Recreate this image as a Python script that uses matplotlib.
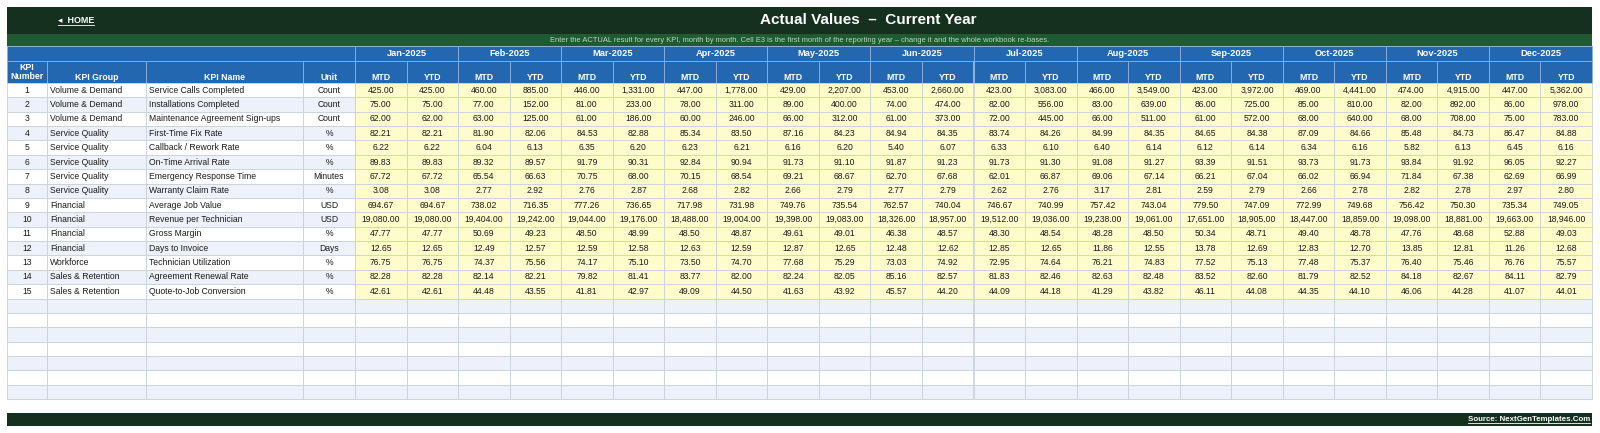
import matplotlib
matplotlib.use("Agg")
import matplotlib.pyplot as plt
from matplotlib.patches import Rectangle

plt.rcParams['font.family'] = ['Liberation Sans', 'DejaVu Sans']

# ---- data ----
months = ["Jan-2025", "Feb-2025", "Mar-2025", "Apr-2025", "May-2025", "Jun-2025",
          "Jul-2025", "Aug-2025", "Sep-2025", "Oct-2025", "Nov-2025", "Dec-2025"]
kpi_numbers = list(range(1, 16))
kpi_groups = ["Volume & Demand", "Volume & Demand", "Volume & Demand",
              "Service Quality", "Service Quality", "Service Quality",
              "Service Quality", "Service Quality", "Financial", "Financial",
              "Financial", "Financial", "Workforce", "Sales & Retention",
              "Sales & Retention"]
kpi_names = ["Service Calls Completed", "Installations Completed",
             "Maintenance Agreement Sign-ups", "First-Time Fix Rate",
             "Callback / Rework Rate", "On-Time Arrival Rate",
             "Emergency Response Time", "Warranty Claim Rate", "Average Job Value",
             "Revenue per Technician", "Gross Margin", "Days to Invoice",
             "Technician Utilization", "Agreement Renewal Rate",
             "Quote-to-Job Conversion"]
units = ["Count", "Count", "Count", "%", "%", "%", "Minutes", "%", "USD", "USD",
         "%", "Days", "%", "%", "%"]

mtd = [
    [425, 460, 446, 447, 429, 453, 423, 466, 423, 469, 474, 447],
    [75, 77, 81, 78, 89, 74, 82, 83, 86, 85, 82, 86],
    [62, 63, 61, 60, 66, 61, 72, 66, 61, 68, 68, 75],
    [82.21, 81.90, 84.53, 85.34, 87.16, 84.94, 83.74, 84.99, 84.65, 87.09, 85.48, 86.47],
    [6.22, 6.04, 6.35, 6.23, 6.16, 5.40, 6.33, 6.40, 6.12, 6.34, 5.82, 6.45],
    [89.83, 89.32, 91.79, 92.84, 91.73, 91.87, 91.73, 91.08, 93.39, 93.73, 93.84, 96.05],
    [67.72, 65.54, 70.75, 70.15, 69.21, 62.70, 62.01, 69.06, 66.21, 66.02, 71.84, 62.69],
    [3.08, 2.77, 2.76, 2.68, 2.66, 2.77, 2.62, 3.17, 2.59, 2.66, 2.82, 2.97],
    [694.67, 738.02, 777.26, 717.98, 749.76, 762.57, 746.67, 757.42, 779.50, 772.99, 756.42, 735.34],
    [19080, 19404, 19044, 18488, 19398, 18326, 19512, 19238, 17651, 18447, 19098, 19663],
    [47.77, 50.69, 48.50, 48.50, 49.61, 46.38, 48.30, 48.28, 50.34, 49.40, 47.76, 52.88],
    [12.65, 12.49, 12.59, 12.63, 12.87, 12.48, 12.85, 11.86, 13.78, 12.83, 13.85, 11.26],
    [76.75, 74.37, 74.17, 73.50, 77.68, 73.03, 72.95, 76.21, 77.52, 77.48, 76.40, 76.76],
    [82.28, 82.14, 79.82, 83.77, 82.24, 85.16, 81.83, 82.63, 83.52, 81.79, 84.18, 84.11],
    [42.61, 44.48, 41.81, 49.09, 41.63, 45.57, 44.09, 41.29, 46.11, 44.35, 46.06, 41.07],
]
ytd = [
    [425, 885, 1331, 1778, 2207, 2660, 3083, 3549, 3972, 4441, 4915, 5362],
    [75, 152, 233, 311, 400, 474, 556, 639, 725, 810, 892, 978],
    [62, 125, 186, 246, 312, 373, 445, 511, 572, 640, 708, 783],
    [82.21, 82.06, 82.88, 83.50, 84.23, 84.35, 84.26, 84.35, 84.38, 84.66, 84.73, 84.88],
    [6.22, 6.13, 6.20, 6.21, 6.20, 6.07, 6.10, 6.14, 6.14, 6.16, 6.13, 6.16],
    [89.83, 89.57, 90.31, 90.94, 91.10, 91.23, 91.30, 91.27, 91.51, 91.73, 91.92, 92.27],
    [67.72, 66.63, 68.00, 68.54, 68.67, 67.68, 66.87, 67.14, 67.04, 66.94, 67.38, 66.99],
    [3.08, 2.92, 2.87, 2.82, 2.79, 2.79, 2.76, 2.81, 2.79, 2.78, 2.78, 2.80],
    [694.67, 716.35, 736.65, 731.98, 735.54, 740.04, 740.99, 743.04, 747.09, 749.68, 750.30, 749.05],
    [19080, 19242, 19176, 19004, 19083, 18957, 19036, 19061, 18905, 18859, 18881, 18946],
    [47.77, 49.23, 48.99, 48.87, 49.01, 48.57, 48.54, 48.50, 48.71, 48.78, 48.68, 49.03],
    [12.65, 12.57, 12.58, 12.59, 12.65, 12.62, 12.65, 12.55, 12.69, 12.70, 12.81, 12.68],
    [76.75, 75.56, 75.10, 74.70, 75.29, 74.92, 74.64, 74.83, 75.13, 75.37, 75.46, 75.57],
    [82.28, 82.21, 81.41, 82.00, 82.05, 82.57, 82.46, 82.48, 82.60, 82.52, 82.67, 82.79],
    [42.61, 43.55, 42.97, 44.50, 43.92, 44.20, 44.18, 43.82, 44.08, 44.10, 44.28, 44.01],
]
n_empty = 7

# ---- colours ----
DARK = "#15301f"
GREEN = "#1f5a32"
BLUE = "#2467b1"
HEAD_LINE = "#8db0dc"
ALT = "#edf2fa"
YELLOW = "#fffccb"
GRID = "#c9d0da"
TXT = "#1a1a1a"

# ---- layout (pixels) ----
W, H = 1600, 433
left, right = 7, 1592
col_edges = [7, 47, 146, 303, 355]
month_w = (right - col_edges[-1]) / len(months)
y_top, y_band, y_month, y_colhead, y_rows = 7, 34, 46, 61, 83
row_h = 14.37
foot_top, foot_bot = 413, 426

fig = plt.figure(figsize=(W / 100, H / 100), dpi=100)
ax = fig.add_axes([0, 0, 1, 1])
ax.set_xlim(0, W)
ax.set_ylim(H, 0)
ax.axis("off")


def cell(x0, y0, w, h, fc, ec=GRID, lw=0.6):
    ax.add_patch(Rectangle((x0, y0), w, h, facecolor=fc, edgecolor=ec, linewidth=lw))


# title band
ax.add_patch(Rectangle((left, y_top), right - left, y_band - y_top, facecolor=DARK, lw=0))
ax.add_patch(Rectangle((left, y_band), right - left, y_month - y_band, facecolor=GREEN, lw=0))
home = ax.text(58, 20.5, "\u25c2  HOME", color="white", fontsize=6.4, fontweight="bold",
               va="center", ha="left")
ax.text(868, 20.5, "Actual Values  \u2013  Current Year", color="white", fontsize=11.0,
        fontweight="bold", va="center", ha="center")
ax.text(800, 40.2, "Enter the ACTUAL result for every KPI, month by month. Cell E3 is the first "
        "month of the reporting year \u2013 change it and the whole workbook re-bases.",
        color="#bfd6c4", fontsize=5.4, va="center", ha="center")

# header rows
cell(left, y_month, col_edges[-1] - left, y_colhead - y_month, BLUE, HEAD_LINE)
for i, m in enumerate(months):
    x0 = col_edges[-1] + i * month_w
    cell(x0, y_month, month_w, y_colhead - y_month, BLUE, HEAD_LINE)
    ax.text(x0 + month_w / 2, 54, m, color="white", fontsize=6.7, fontweight="bold",
            ha="center", va="center")
    for j, lab in enumerate(["MTD", "YTD"]):
        cell(x0 + j * month_w / 2, y_colhead, month_w / 2, y_rows - y_colhead, BLUE, HEAD_LINE)
        ax.text(x0 + (j + 0.5) * month_w / 2, 77, lab, color="white", fontsize=6.3,
                fontweight="bold", ha="center", va="center")

head_labels = ["KPI\nNumber", "KPI Group", "KPI Name", "Unit"]
for k, lab in enumerate(head_labels):
    x0, x1 = col_edges[k], col_edges[k + 1]
    cell(x0, y_colhead, x1 - x0, y_rows - y_colhead, BLUE, HEAD_LINE)
    two = "\n" in lab
    ax.text((x0 + x1) / 2, 81 if two else 77, lab, color="white", fontsize=6.3,
            fontweight="bold", ha="center", va="bottom" if two else "center",
            linespacing=1.05)

# data rows
for r in range(len(kpi_names)):
    y0 = y_rows + r * row_h
    yc = y0 + row_h / 2
    fc = ALT if r % 2 == 1 else "white"
    texts = [str(kpi_numbers[r]), kpi_groups[r], kpi_names[r], units[r]]
    aligns = ["center", "left", "left", "center"]
    for k in range(4):
        x0, x1 = col_edges[k], col_edges[k + 1]
        cell(x0, y0, x1 - x0, row_h, fc)
        tx = (x0 + x1) / 2 if aligns[k] == "center" else x0 + 3
        ax.text(tx, yc, texts[k], color=TXT, fontsize=6.2, ha=aligns[k], va="center")
    for i in range(len(months)):
        for j, vals in enumerate([mtd, ytd]):
            x0 = col_edges[-1] + i * month_w + j * month_w / 2
            cell(x0, y0, month_w / 2, row_h, YELLOW)
            ax.text(x0 + month_w / 4, yc, f"{vals[r][i]:,.2f}", color=TXT, fontsize=6.2,
                    ha="center", va="center")

# empty rows
for e in range(n_empty):
    r = len(kpi_names) + e
    y0 = y_rows + r * row_h
    fc = ALT if r % 2 == 1 else "white"
    for k in range(4):
        cell(col_edges[k], y0, col_edges[k + 1] - col_edges[k], row_h, fc)
    for i in range(len(months) * 2):
        cell(col_edges[-1] + i * month_w / 2, y0, month_w / 2, row_h, fc)

# footer
ax.add_patch(Rectangle((left, foot_top), right - left, foot_bot - foot_top, facecolor=DARK, lw=0))
src = ax.text(1590, (foot_top + foot_bot) / 2, "Source: NextGenTemplates.Com", color="white",
              fontsize=5.7, fontweight="bold", ha="right", va="center")

# underlines for the link-style texts
fig.canvas.draw()
inv = ax.transData.inverted()
for t in (home, src):
    bb = t.get_window_extent()
    (x0, yb), (x1, _) = inv.transform([[bb.x0, bb.y0], [bb.x1, bb.y1]])
    ax.plot([x0, x1], [yb - 0.3, yb - 0.3], color="white", lw=0.6)

fig.savefig("out.png", dpi=100, facecolor="white")
